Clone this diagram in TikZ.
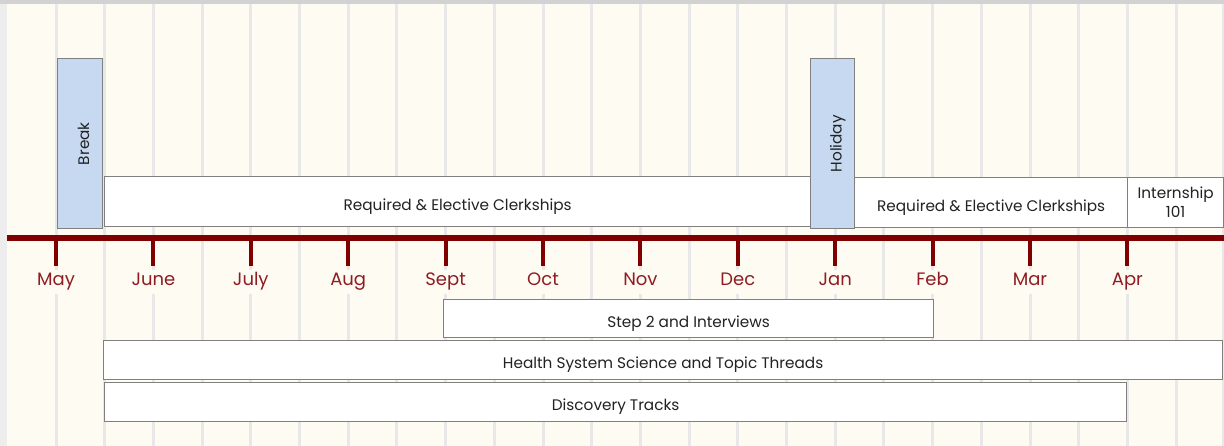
\documentclass[tikz,border=0pt]{standalone}
\usepackage{fontspec}
\setmainfont{Poppins}
\usepackage{xcolor}
\usepackage{tikz}

\definecolor{cream}{HTML}{FEFBF3}
\definecolor{gridgray}{HTML}{E8E8E8}
\definecolor{framegray}{HTML}{D2D2D2}
\definecolor{maroon}{HTML}{800000}
\definecolor{monthred}{HTML}{8E1C22}
\definecolor{boxgray}{HTML}{808080}
\definecolor{breakblue}{HTML}{C6D9F1}
\definecolor{inkgray}{HTML}{222222}

\newcommand{\vlabel}[1]{\rotatebox{90}{\raisebox{0pt}[18pt][0pt]{#1}}}

\begin{document}
\begin{tikzpicture}[x=1pt, y=-1pt,
  gridline/.style={gridgray, line width=3pt},
  bar/.style={draw=boxgray, line width=1.3pt, fill=white, inner sep=0pt, anchor=north west,
    align=center, text=inkgray, font=\fontsize{15.3}{19}\selectfont},
  textbar/.style={bar, text height=19pt, text depth=2pt},
  pause/.style={bar, fill=breakblue},
  month/.style={text=monthred, fill=cream, inner xsep=1pt, inner ysep=3pt, anchor=base,
    text height=13pt, text depth=5pt, font=\fontsize{18}{20}\selectfont}]
\useasboundingbox (0,0) rectangle (1224,446);
\fill[cream] (0,0) rectangle (1224,446);
\fill[gridgray!80] (0,0) rectangle (7,446);
\fill[framegray] (0,0) rectangle (1224,4);

% half-month grid
\foreach \k in {0,...,23}
  \draw[gridline] (56+48.7*\k,4) -- ++(0,442);
\draw[gridgray, line width=2pt] (1223,4) -- (1223,446);

% blocks above the timeline
\node[pause, minimum width=45pt, minimum height=170pt] (brk) at (57,58) {\vlabel{Break}};
\node[textbar, minimum width=706pt, minimum height=50pt] (clerk1) at (104,176) {Required \& Elective Clerkships};
\node[pause, minimum width=44pt, minimum height=170pt] (hol) at (810,58) {\vlabel{Holiday}};
\node[textbar, minimum width=273pt, minimum height=50pt] (clerk2) at (854,177) {Required \& Elective Clerkships};
\node[bar, minimum width=96pt, minimum height=50pt] (intern) at (1127,177) {Internship\\101};

% blocks below the timeline
\node[textbar, minimum width=490pt, minimum height=38pt] (step) at (443,299) {Step 2 and Interviews};
\node[textbar, minimum width=1119pt, minimum height=39pt] (hss) at (103,340) {Health System Science and Topic Threads};
\node[textbar, minimum width=1022pt, minimum height=39pt] (disc) at (104,382) {Discovery Tracks};

% timeline
\coordinate (tl0) at (7,238);
\coordinate (tl1) at (1224,238);
\draw[maroon, line width=6pt] (tl0) -- (tl1);
\foreach \m [count=\i from 0] in {May,June,July,Aug,Sept,Oct,Nov,Dec,Jan,Feb,Mar,Apr} {
  \coordinate (t\i) at (56+97.4*\i,238);
  \draw[maroon, line width=4pt] (t\i) -- ++(0,28);
  \node[month] (m\i) at (56+97.4*\i,286) {\m};
}
\end{tikzpicture}
\end{document}
